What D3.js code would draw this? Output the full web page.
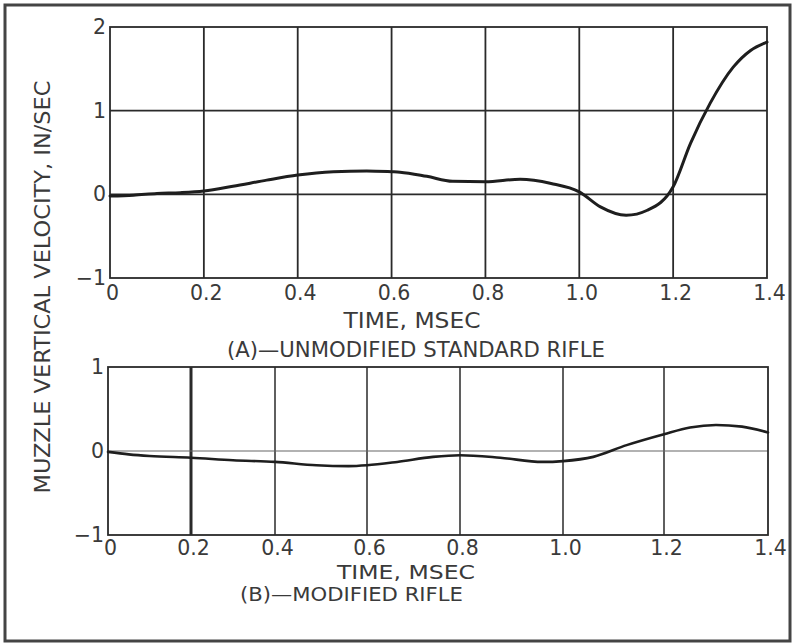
<!DOCTYPE html>
<html>
<head>
<meta charset="utf-8">
<script src="https://cdn.jsdelivr.net/npm/d3@7"></script>
<style>
  html, body { margin: 0; padding: 0; background: #fff; }
  svg { display: block; }
  text { font-family: "DejaVu Sans", sans-serif; fill: #3a3a3a; }
</style>
</head>
<body>
<svg id="chart" width="796" height="643"></svg>
<script>
// ---- data ----
const xTicks = [0, 0.2, 0.4, 0.6, 0.8, 1.0, 1.2, 1.4];
const xTickLabels = ["0", "0.2", "0.4", "0.6", "0.8", "1.0", "1.2", "1.4"];
const yTicksA = [-1, 0, 1, 2];
const yTicksB = [-1, 0, 1];

const timeA = [0, 0.05, 0.1, 0.15, 0.2, 0.262, 0.334, 0.4, 0.476, 0.547, 0.6, 0.618, 0.675, 0.73, 0.8, 0.874, 0.94, 1.0, 1.045, 1.1, 1.145, 1.2, 1.237, 1.279, 1.328, 1.365, 1.4];
const velA  = [-0.02, -0.01, 0.01, 0.02, 0.04, 0.096, 0.17, 0.23, 0.27, 0.28, 0.27, 0.265, 0.215, 0.155, 0.15, 0.18, 0.13, 0.03, -0.15, -0.25, -0.19, 0.09, 0.61, 1.09, 1.52, 1.72, 1.82];

const timeB = [0, 0.05, 0.1, 0.2, 0.3, 0.4, 0.49, 0.56, 0.6, 0.665, 0.742, 0.8, 0.878, 0.96, 1.0, 1.06, 1.126, 1.2, 1.25, 1.3, 1.35, 1.4];
const velB  = [-0.01, -0.04, -0.06, -0.08, -0.11, -0.13, -0.17, -0.18, -0.17, -0.13, -0.07, -0.05, -0.08, -0.13, -0.12, -0.07, 0.07, 0.2, 0.28, 0.31, 0.29, 0.22];

const yLabel = "MUZZLE VERTICAL VELOCITY, IN/SEC";
const xLabel = "TIME, MSEC";
const captionA = "(A)\u2014UNMODIFIED STANDARD RIFLE";
const captionB = "(B)\u2014MODIFIED RIFLE";

// ---- layout ----
const svg = d3.select("#chart");
const fmtTick = v => xTickLabels[xTicks.indexOf(v)];
const fmtY = v => v < 0 ? "\u2212" + Math.abs(v) : String(v);
const FS = 20.5;

// outer frame
svg.append("rect").attr("x", 5).attr("y", 5).attr("width", 785).attr("height", 636)
  .attr("fill", "none").attr("stroke", "#444").attr("stroke-width", 3);

function label(x, y, txt, len, anchor, transform, fs) {
  const t = svg.append("text").attr("font-size", fs || FS).attr("text-anchor", anchor || "middle").text(txt);
  if (transform) t.attr("transform", transform); else t.attr("x", x).attr("y", y);
  if (len) t.attr("textLength", len).attr("lengthAdjust", "spacingAndGlyphs");
  return t;
}

// y axis title
label(0, 0, yLabel, 413, "middle", "translate(50,287) rotate(-90)");

function panel(opts) {
  const { x, y, yTicks, time, vel, gridW, thickTick, zeroStyle, lineW, pad } = opts;
  const g = svg.append("g");
  const x0 = x.range()[0], x1 = x.range()[x.range().length - 1];
  const y0 = y.range()[0], y1 = y.range()[1];

  // vertical gridlines
  g.selectAll(".vg").data(xTicks.slice(1, -1)).enter().append("line")
    .attr("x1", d => x(d)).attr("x2", d => x(d))
    .attr("y1", y0).attr("y2", y1)
    .attr("stroke", "#2a2a2a")
    .attr("stroke-width", d => d === thickTick ? 3 : gridW);

  // horizontal gridlines
  g.selectAll(".hg").data(yTicks.slice(1, -1)).enter().append("line")
    .attr("x1", x0).attr("x2", x1)
    .attr("y1", d => y(d)).attr("y2", d => y(d))
    .attr("stroke", d => (d === 0 && zeroStyle) ? zeroStyle.color : "#2a2a2a")
    .attr("stroke-width", d => (d === 0 && zeroStyle) ? zeroStyle.width : gridW);

  // frame
  g.append("rect").attr("x", x0).attr("y", y1).attr("width", x1 - x0).attr("height", y0 - y1)
    .attr("fill", "none").attr("stroke", "#2a2a2a").attr("stroke-width", 1.8);

  // x axis labels
  const xa = g.append("g").attr("transform", `translate(0,${y0})`)
    .call(d3.axisBottom(x).tickValues(xTicks).tickFormat(fmtTick).tickSize(0).tickPadding(pad));
  xa.select(".domain").remove();
  xa.selectAll("text").attr("font-size", FS).attr("font-family", "DejaVu Sans, sans-serif")
    .attr("fill", "#3a3a3a").attr("dx", 2);

  // y axis labels
  const ya = g.append("g").attr("transform", `translate(${x0},0)`)
    .call(d3.axisLeft(y).tickValues(yTicks).tickFormat(fmtY).tickSize(0).tickPadding(4));
  ya.select(".domain").remove();
  ya.selectAll("text").attr("font-size", FS).attr("font-family", "DejaVu Sans, sans-serif")
    .attr("fill", "#3a3a3a");

  // curve
  const pts = time.map((t, i) => [t, vel[i]]);
  g.append("path").datum(pts)
    .attr("fill", "none").attr("stroke", "#1e1e1e").attr("stroke-width", lineW)
    .attr("stroke-linejoin", "round").attr("stroke-linecap", "round")
    .attr("d", d3.line().x(d => x(d[0])).y(d => y(d[1])).curve(d3.curveMonotoneX));
  return g;
}

// Panel A
const xA = d3.scaleLinear().domain([0, 1.4]).range([110, 767]);
const yA = d3.scaleLinear().domain([-1, 2]).range([278, 27]);
panel({ x: xA, y: yA, yTicks: yTicksA, time: timeA, vel: velA, gridW: 1.8, lineW: 3, pad: 7 });
label(412, 328, xLabel, 137);
label(416, 357, captionA, 378);

// Panel B (the printed grid is unevenly spaced)
const xB = d3.scaleLinear().domain(xTicks).range([108, 191, 275, 367, 460, 563, 664, 768]);
const yB = d3.scaleLinear().domain([-1, 1]).range([535, 367]);
panel({ x: xB, y: yB, yTicks: yTicksB, time: timeB, vel: velB, gridW: 1.5, thickTick: 0.2,
        zeroStyle: { color: "#666", width: 1.2 }, lineW: 2.6, pad: 5 });
label(406, 579, xLabel, 138, "middle", null, 19);
label(240, 601, captionB, 223, "start", null, 19);
</script>
</body>
</html>
